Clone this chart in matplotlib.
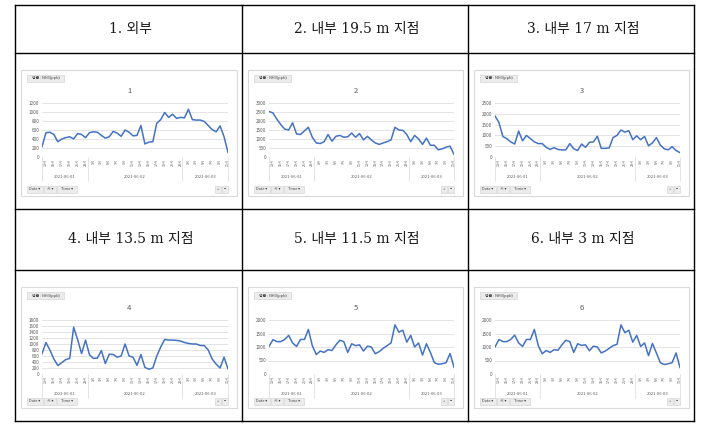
import numpy as np
import matplotlib
matplotlib.use('Agg')
import matplotlib.pyplot as plt
import matplotlib.transforms as mtransforms
from matplotlib.patches import Rectangle

plt.rcParams['font.family'] = ['Noto Sans CJK KR', 'DejaVu Sans']

#%% Data (NH3, ppb)

headers = ['1. 외부', '2. 내부 19.5 m 지점', '3. 내부 17 m 지점',
           '4. 내부 13.5 m 지점', '5. 내부 11.5 m 지점', '6. 내부 3 m 지점']
titles = ['1', '2', '3', '4', '5', '6']

hours = list(range(12, 24)) + list(range(0, 24)) + list(range(0, 12))
dates = ['2021-06-01', '2021-06-02', '2021-06-03']
day_bounds = [0, 11.5, 35.5, 47]

nh3_1 = [230, 540, 550, 500, 340, 400, 430, 450, 400, 520, 500, 430,
         540, 560, 550, 480, 420, 450, 570, 530, 460, 600, 550, 470,
         480, 700, 290, 330, 340, 750, 830, 990, 880, 950, 860, 880,
         870, 1060, 830, 820, 820, 790, 700, 610, 560, 690, 450, 100]
nh3_2 = [2530, 2450, 2100, 1800, 1550, 1500, 1900, 1280, 1250, 1450, 1650, 1100,
         780, 750, 850, 1250, 880, 1150, 1200, 1100, 1120, 1330, 1100, 1300,
         950, 1150, 950, 780, 700, 780, 850, 950, 1650, 1500, 1480, 1250,
         850, 1200, 1000, 700, 1050, 650, 650, 400, 450, 550, 600, 150]
nh3_3 = [1900, 1600, 950, 850, 700, 600, 1200, 750, 1000, 850, 700, 620,
         620, 450, 350, 430, 350, 330, 330, 620, 380, 300, 600, 450,
         680, 700, 960, 400, 400, 420, 900, 1000, 1250, 1150, 1220, 800,
         980, 800, 950, 520, 650, 900, 550, 380, 330, 480, 300, 200]
nh3_4 = [680, 1050, 800, 500, 280, 380, 480, 520, 1560, 1150, 680, 1130,
         640, 520, 530, 780, 350, 660, 650, 560, 600, 1000, 600, 560,
         290, 650, 220, 160, 200, 600, 900, 1150, 1130, 1130, 1120, 1100,
         1050, 1020, 1000, 1000, 950, 950, 800, 500, 330, 200, 560, 170]
nh3_5 = [1020, 1270, 1200, 1200, 1280, 1430, 1150, 1020, 1280, 1280, 1650, 1050,
         720, 850, 800, 900, 870, 1080, 1250, 1200, 800, 1120, 1050, 1080,
         850, 1030, 1000, 750, 830, 950, 1050, 1150, 1820, 1550, 1620, 1180,
         1430, 1000, 1150, 700, 1120, 800, 420, 360, 380, 420, 760, 250]
nh3_6 = [1000, 1280, 1200, 1200, 1280, 1440, 1150, 1020, 1280, 1280, 1650, 1050,
         750, 870, 800, 900, 880, 1080, 1250, 1200, 800, 1120, 1060, 1080,
         860, 1030, 1000, 780, 850, 950, 1050, 1100, 1820, 1530, 1620, 1180,
         1430, 1020, 1150, 680, 1130, 780, 420, 350, 380, 420, 780, 240]
series = [nh3_1, nh3_2, nh3_3, nh3_4, nh3_5, nh3_6]

y_max = [1200, 3000, 2500, 1800, 2000, 2000]
y_step = [200, 500, 500, 200, 500, 500]

#%% Figure and table grid (pixel coordinates)

W, H = 716, 432
fig = plt.figure(figsize=(W / 100, H / 100), dpi=100)
bg = fig.add_axes([0, 0, 1, 1])
bg.set_xlim(0, W)
bg.set_ylim(H, 0)
bg.axis('off')

cols = [15, 242, 468, 694]
rows = [5, 53, 209, 270, 421]

for y in rows:
    bg.plot([cols[0], cols[-1]], [y, y], color='black', lw=1.0, solid_capstyle='projecting')
for x in cols:
    bg.plot([x, x], [rows[0], rows[-1]], color='black', lw=1.0, solid_capstyle='projecting')

header_rows = [(rows[0], rows[1]), (rows[2], rows[3])]
chart_rows = [(rows[1], rows[2]), (rows[3], rows[4])]

line_col = '#4472C4'
grid_col = '#D9D9D9'
txt_col = '#595959'


def button(x0, y0, w, h, label):
    bg.add_patch(Rectangle((x0, y0), w, h, facecolor='#ECECEC', edgecolor='#CFCFCF', lw=0.4))
    bg.text(x0 + w / 2, y0 + h / 2, label, fontsize=2.8, color='#404040',
            ha='center', va='center')


#%% Six panels

x = np.arange(len(hours))
for i in range(6):
    r, c = divmod(i, 3)
    hy0, hy1 = header_rows[r]
    bg.text((cols[c] + cols[c + 1]) / 2 + 2, (hy0 + hy1) / 2, headers[i], fontsize=10,
            family=['DejaVu Serif', 'Noto Sans CJK KR'], fontweight='light',
            color='#1A1A1A', ha='center', va='center')

    ry0, ry1 = chart_rows[r]
    px0, px1 = cols[c] + 6, cols[c + 1] - 5
    py0, py1 = ry0 + 17, ry1 - 13
    bg.add_patch(Rectangle((px0, py0), px1 - px0, py1 - py0, facecolor='white',
                           edgecolor=grid_col, lw=0.8))

    # field buttons
    button(px0 + 6, py0 + 5, 37, 7, '평균 : NH3(ppb)')
    button(px0 + 6, py1 - 10, 16, 7, 'Date ▾')
    button(px0 + 23, py1 - 10, 12, 7, '시 ▾')
    button(px0 + 36, py1 - 10, 20, 7, 'Time ▾')
    button(px1 - 22, py1 - 10, 6, 7, '+')
    button(px1 - 15, py1 - 10, 6, 7, '−')

    bg.text((px0 + px1) / 2, py0 + 21, titles[i], fontsize=5.5, color=txt_col,
            ha='center', va='center')

    # plot area
    ax_l, ax_r = px0 + 21, px1 - 9
    ax_t, ax_b = py0 + 33, py0 + 87
    ax = fig.add_axes([ax_l / W, 1 - ax_b / H, (ax_r - ax_l) / W, (ax_b - ax_t) / H])
    ax.plot(x, series[i], color=line_col, lw=1.1, solid_joinstyle='round')
    ax.set_xlim(0, len(hours) - 1)
    ax.set_ylim(0, y_max[i])
    ax.set_yticks(np.arange(0, y_max[i] + 1, y_step[i]))
    ax.yaxis.grid(True, color=grid_col, lw=0.5)
    ax.set_axisbelow(True)
    for s in ax.spines.values():
        s.set_visible(False)
    ax.tick_params(axis='y', length=0, labelsize=3.3, labelcolor=txt_col, pad=2)
    ax.set_xticks(x[1::2])
    ax.set_xticklabels([f'{h}시' for h in hours[1::2]], rotation=90, fontsize=2.6,
                       color=txt_col)
    ax.tick_params(axis='x', length=0, pad=1.5)
    ax.patch.set_alpha(0)

    # category grouping under the axis
    trans = mtransforms.blended_transform_factory(ax.transData, ax.transAxes)
    for b in day_bounds:
        ax.plot([b, b], [0, -0.45], color=grid_col, lw=0.5, transform=trans, clip_on=False)
    for d in range(3):
        ax.text((day_bounds[d] + day_bounds[d + 1]) / 2, -0.37, dates[d], fontsize=3,
                color=txt_col, ha='center', va='center', transform=trans)

fig.savefig('out.png', dpi=100)
